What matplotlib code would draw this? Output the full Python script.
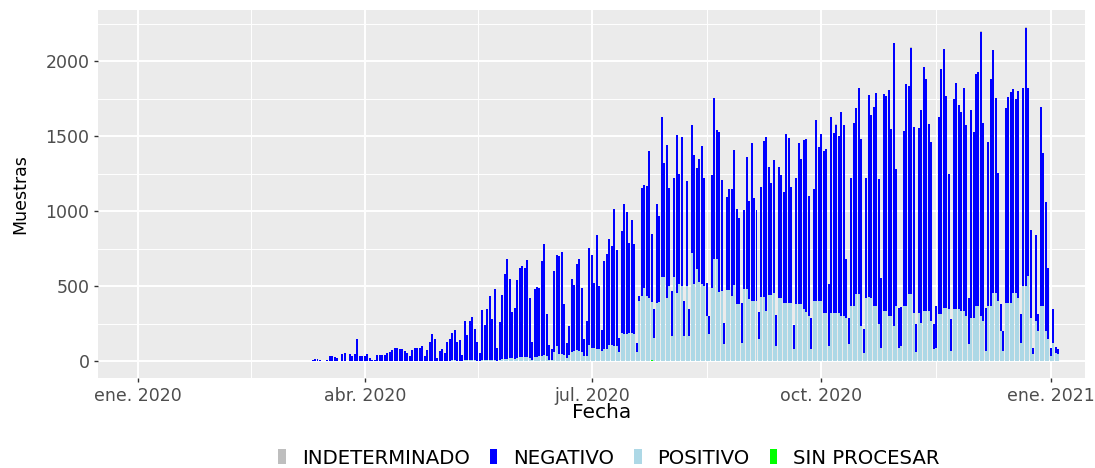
import numpy as np
import pandas as pd
import matplotlib
matplotlib.use("Agg")
import matplotlib.pyplot as plt
import matplotlib.dates as mdates
from matplotlib.patches import Rectangle

# one value per day starting here
fecha_inicio = "2020-03-06"

# height of the stacked bar up to the top of NEGATIVO
total_muestras = [
    4, 5, 4, 0, 0, 10, 15, 15, 10, 5,
    3, 8, 38, 38, 29, 25, 5, 51, 55, 5,
    51, 38, 51, 149, 38, 33, 33, 49, 22, 10,
    12, 42, 42, 42, 45, 55, 64, 78, 89, 89,
    80, 80, 67, 55, 38, 78, 89, 89, 89, 100,
    38, 78, 127, 182, 149, 20, 67, 80, 53, 129,
    151, 187, 207, 131, 142, 40, 269, 173, 269, 296,
    213, 129, 53, 344, 240, 347, 433, 284, 480, 89,
    262, 442, 584, 680, 547, 329, 358, 544, 624, 633,
    624, 673, 424, 129, 484, 496, 491, 669, 784, 318,
    109, 80, 602, 707, 702, 729, 384, 124, 233, 547,
    507, 651, 684, 491, 151, 269, 758, 707, 524, 842,
    502, 209, 669, 713, 818, 769, 1018, 742, 158, 869,
    1047, 995, 791, 944, 784, 124, 436, 1158, 1173, 1169,
    1402, 847, 347, 1047, 969, 1631, 1324, 1440, 1155, 469,
    1220, 1509, 1247, 1498, 402, 1202, 347, 1575, 1373, 1291,
    1351, 1435, 1224, 524, 300, 1240, 1758, 1542, 1529, 1209,
    258, 1095, 1147, 1151, 1407, 1018, 958, 391, 1007, 1362,
    1069, 1458, 1091, 1007, 329, 1162, 1469, 1495, 1295, 1191,
    1340, 311, 1295, 1242, 1131, 1518, 1487, 1162, 244, 1224,
    1458, 1347, 1473, 1480, 1102, 291, 1147, 1607, 1431, 1518,
    1402, 1418, 513, 1631, 1520, 1575, 1502, 1662, 1575, 680,
    291, 1224, 1591, 1691, 1824, 1480, 213, 1224, 1773, 1642,
    1695, 1791, 1213, 558, 1780, 1769, 1806, 1547, 2124, 1280,
    358, 364, 1535, 1846, 1835, 2091, 1564, 247, 1558, 1675,
    1964, 1884, 1580, 1462, 247, 369, 1631, 1946, 2084, 1769,
    1251, 280, 1747, 1853, 1706, 1662, 1824, 1573, 424, 1675,
    1529, 1913, 1931, 2195, 1587, 358, 1462, 1880, 2075, 1753,
    1258, 380, 202, 1691, 1764, 1795, 1813, 1747, 1802, 313,
    1824, 2224, 1824, 875, 91, 840, 313, 1698, 1391, 1062,
    624, 91, 351, 98, 84,
]

positivo = [
    2, 2, 2, 0, 0, 1, 1, 1, 1, 0,
    0, 1, 2, 2, 2, 1, 0, 2, 2, 0,
    2, 2, 2, 4, 2, 1, 1, 2, 1, 0,
    1, 2, 2, 2, 2, 2, 3, 3, 3, 3,
    3, 3, 2, 2, 2, 3, 3, 3, 3, 3,
    2, 3, 4, 5, 4, 2, 3, 3, 2, 4,
    5, 6, 6, 5, 5, 2, 8, 6, 8, 9,
    7, 5, 2, 10, 8, 10, 12, 9, 12, 4,
    10, 15, 18, 18, 20, 20, 15, 25, 30, 31,
    31, 28, 25, 10, 30, 32, 35, 38, 40, 30,
    12, 12, 60, 100, 50, 47, 45, 20, 40, 65,
    69, 69, 69, 60, 36, 36, 110, 91, 91, 80,
    80, 70, 80, 80, 107, 107, 100, 100, 60, 191,
    180, 180, 190, 190, 185, 60, 400, 435, 490, 435,
    424, 390, 150, 391, 391, 558, 560, 424, 500, 169,
    564, 458, 513, 500, 169, 500, 169, 724, 513, 613,
    529, 513, 500, 300, 180, 491, 680, 680, 464, 470,
    113, 475, 475, 436, 507, 380, 380, 124, 480, 480,
    410, 402, 402, 402, 147, 431, 431, 336, 440, 440,
    453, 102, 424, 424, 391, 391, 391, 391, 80, 380,
    380, 380, 347, 330, 300, 80, 400, 400, 400, 400,
    324, 324, 102, 324, 324, 324, 324, 302, 302, 291,
    113, 369, 369, 447, 447, 235, 58, 424, 424, 424,
    369, 369, 247, 91, 336, 336, 300, 300, 235, 369,
    91, 100, 369, 369, 447, 447, 324, 62, 324, 258,
    335, 335, 335, 269, 80, 90, 313, 313, 358, 358,
    347, 69, 347, 347, 347, 335, 335, 300, 113, 291,
    291, 369, 369, 300, 269, 69, 369, 369, 458, 458,
    402, 200, 69, 391, 391, 391, 458, 458, 420, 124,
    502, 502, 569, 291, 47, 269, 202, 369, 369, 202,
    150, 35, 124, 58, 50,
]

sin_procesar_fechas = ["2020-06-13", "2020-06-25", "2020-07-03", "2020-07-12",
                       "2020-07-20", "2020-07-25", "2020-07-26", "2020-07-28",
                       "2020-07-29", "2020-08-14", "2020-09-02", "2020-10-20"]
sin_procesar = [4, 4, 3, 5, 4, 6, 4, 5, 5, 3, 3, 3]

indeterminado_fechas = ["2020-09-07", "2020-10-07", "2020-11-06", "2020-12-04", "2020-12-22"]
indeterminado = [3, 4, 5, 6, 5]

categorias = ["INDETERMINADO", "NEGATIVO", "POSITIVO", "SIN PROCESAR"]
colores = {"INDETERMINADO": "#BEBEBE", "NEGATIVO": "#0000FF",
           "POSITIVO": "#ADD8E6", "SIN PROCESAR": "#00FF00"}

ticks_fechas = ["2020-01-01", "2020-04-01", "2020-07-01", "2020-10-01", "2021-01-01"]
ticks_etiquetas = ["ene. 2020", "abr. 2020", "jul. 2020", "oct. 2020", "ene. 2021"]


fechas = pd.date_range(fecha_inicio, periods=len(total_muestras), freq="D")
sp = pd.Series(sin_procesar, index=pd.to_datetime(sin_procesar_fechas)).reindex(fechas, fill_value=0).to_numpy(float)
ind = pd.Series(indeterminado, index=pd.to_datetime(indeterminado_fechas)).reindex(fechas, fill_value=0).to_numpy(float)
pos = np.array(positivo, float)
neg = np.clip(np.array(total_muestras, float) - pos - sp, 0, None)

fig = plt.figure(figsize=(10.95, 4.68), dpi=100)
ax = fig.add_axes([98 / 1095, 90 / 468, 987 / 1095, 368 / 468])

x = mdates.date2num(fechas)
base = np.zeros(len(x))
for vals, cat in [(sp, "SIN PROCESAR"), (pos, "POSITIVO"), (neg, "NEGATIVO"), (ind, "INDETERMINADO")]:
    ax.bar(x, vals, width=0.8, bottom=base, color=colores[cat], linewidth=0)
    base = base + vals

ax.set_facecolor("#EBEBEB")
for s in ax.spines.values():
    s.set_visible(False)

x_ene = mdates.date2num(pd.Timestamp("2020-01-01"))
ax.set_xlim(x_ene - 16.0, x_ene + 379.7)
ax.set_ylim(-111, 2342)

xt = mdates.date2num(pd.to_datetime(ticks_fechas))
ax.set_xticks(xt)
ax.set_xticklabels(ticks_etiquetas)
ax.set_xticks((xt[:-1] + xt[1:]) / 2, minor=True)
ax.set_yticks([0, 500, 1000, 1500, 2000])
ax.set_yticks([250, 750, 1250, 1750, 2250], minor=True)

ax.grid(which="major", color="white", linewidth=1.4)
ax.grid(which="minor", color="white", linewidth=0.7)
ax.set_axisbelow(True)
ax.tick_params(which="major", length=3.2, width=1.0, color="#333333",
               labelcolor="#4D4D4D", labelsize=12.5, pad=3)
ax.tick_params(which="minor", length=0)

ax.set_xlabel("Fecha", fontsize=14.5, color="black")
ax.xaxis.set_label_coords((601.5 - 98) / 987, (378 - 413) / 368)
ax.xaxis.label.set_va("center")
ax.set_ylabel("Muestras", fontsize=12.5, color="black")
ax.yaxis.set_label_coords((20.5 - 98) / 987, 0.5)
ax.yaxis.label.set_va("center")

handles = [Rectangle((0, 0), 1, 1, facecolor=colores[c], linewidth=0) for c in categorias]
fig.legend(handles, categorias, loc="center", ncol=4, frameon=False,
           bbox_to_anchor=(609 / 1095, 1 - 458 / 468), bbox_transform=fig.transFigure,
           fontsize=14.2, handlelength=0.4, handleheight=0.75,
           handletextpad=0.8, columnspacing=1.0)

fig.savefig("out.png", dpi=100)
